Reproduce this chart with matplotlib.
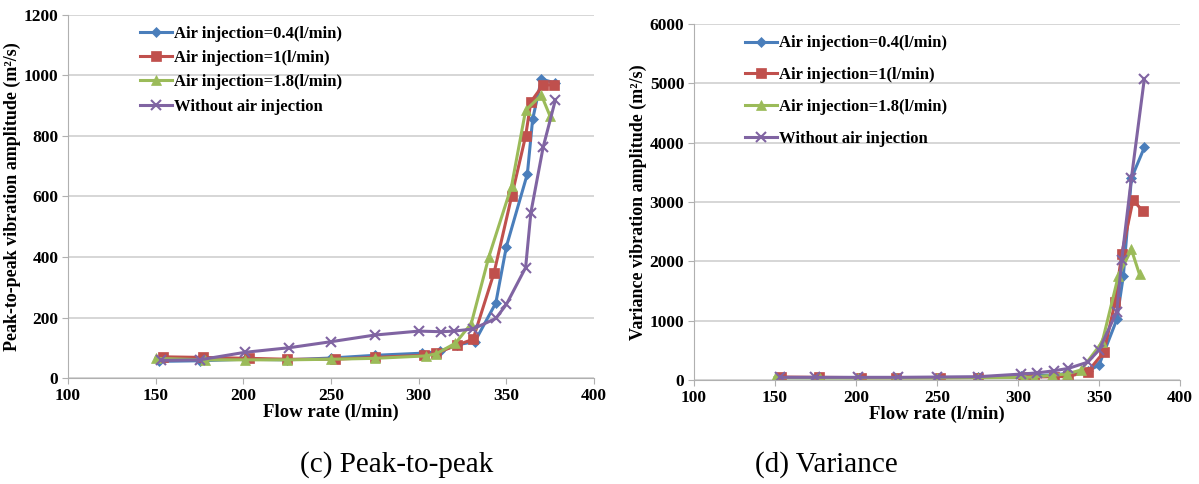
import matplotlib
matplotlib.use('Agg')
import matplotlib.pyplot as plt

plt.rcParams['font.family'] = ['Liberation Serif', 'DejaVu Serif']

# peak-to-peak (c)
x_p04 = [152, 175, 201, 225, 250, 275, 302, 312, 322, 332, 344, 350, 362, 365, 370, 378]
y_p04 = [55, 57, 62, 60, 66, 75, 82, 88, 110, 120, 248, 434, 675, 855, 988, 975]
x_p1 = [154, 177, 203, 225, 252, 275, 303, 310, 322, 331, 343, 353, 361, 364, 371, 377]
y_p1 = [70, 68, 65, 62, 62, 68, 75, 82, 109, 128, 348, 600, 800, 913, 969, 969]
x_p18 = [150, 178, 201, 225, 250, 275, 304, 310, 321, 330, 340, 353, 361, 370, 375]
y_p18 = [65, 60, 60, 60, 62, 65, 73, 80, 115, 180, 400, 635, 885, 935, 865]
x_p0 = [153, 175, 201, 226, 250, 275, 300, 313, 320, 331, 344, 350, 361, 364, 371, 378]
y_p0 = [58, 60, 85, 100, 120, 142, 155, 153, 155, 162, 197, 243, 365, 547, 763, 920]

# variance (d)
x_v04 = [152, 175, 202, 225, 252, 275, 302, 310, 322, 331, 343, 350, 361, 365, 370, 378]
y_v04 = [40, 40, 40, 40, 42, 45, 60, 70, 90, 110, 150, 250, 1020, 1750, 3400, 3920]
x_v1 = [154, 177, 203, 225, 252, 275, 303, 310, 322, 331, 343, 353, 360, 364, 371, 377]
y_v1 = [50, 45, 40, 40, 40, 42, 45, 50, 55, 60, 140, 470, 1320, 2120, 3030, 2850]
x_v18 = [150, 178, 201, 225, 250, 275, 304, 310, 321, 330, 339, 352, 362, 370, 375]
y_v18 = [40, 35, 35, 35, 35, 38, 45, 50, 80, 100, 170, 640, 1760, 2200, 1780]
x_v0 = [153, 175, 201, 226, 250, 275, 302, 312, 322, 331, 343, 350, 361, 364, 370, 378]
y_v0 = [45, 45, 45, 45, 50, 55, 100, 120, 155, 195, 300, 505, 1150, 2020, 3400, 5080]

labels = ['Air injection=0.4(l/min)', 'Air injection=1(l/min)',
          'Air injection=1.8(l/min)', 'Without air injection']
colors = ['#4A7EBB', '#C0504D', '#9BBB59', '#8064A2']
markers = ['D', 's', '^', 'x']
msizes = [5.5, 7.5, 7, 7]

fig = plt.figure(figsize=(11.99, 4.84), dpi=100)
ax1 = fig.add_axes([68/1199, 1-378/484, 526/1199, 363/484])
ax2 = fig.add_axes([694/1199, 1-380/484, 486/1199, 356/484])

def draw(ax, series, ymax, ystep, ylabel, leg_xy, spacing):
    for (x, y), lab, c, m, ms in zip(series, labels, colors, markers, msizes):
        ax.plot(x, y, color=c, lw=2.2, marker=m, ms=ms, mew=1.5 if m == 'x' else 0.5,
                mec=c, label=lab)
    ax.set_xlim(100, 400)
    ax.set_ylim(0, ymax)
    ax.set_xticks(range(100, 401, 50))
    ax.set_yticks(range(0, ymax + 1, ystep))
    ax.grid(axis='y', color='#d0d0d0', lw=1.2)
    ax.set_axisbelow(True)
    for s in ['top', 'right']:
        ax.spines[s].set_visible(False)
    for s in ['left', 'bottom']:
        ax.spines[s].set_color('#b0b0b0')
    ax.tick_params(length=4, color='#b0b0b0', labelsize=12.5, pad=3)
    for t in ax.get_xticklabels() + ax.get_yticklabels():
        t.set_fontweight('bold')
    ax.set_xlabel('Flow rate (l/min)', fontsize=13.5, fontweight='bold', labelpad=0)
    ax.set_ylabel(ylabel, fontsize=13, fontweight='bold', labelpad=2)
    ax.legend(loc='upper left', bbox_to_anchor=leg_xy, frameon=False,
              prop={'weight': 'bold', 'size': 12}, handlelength=1.9,
              handletextpad=0.15, labelspacing=spacing, borderpad=0,
              borderaxespad=0)

draw(ax1, [(x_p04, y_p04), (x_p1, y_p1), (x_p18, y_p18), (x_p0, y_p0)],
     1200, 200, 'Peak-to-peak vibration amplitude (m²/s)', (0.137, 0.971), 0.5)
draw(ax2, [(x_v04, y_v04), (x_v1, y_v1), (x_v18, y_v18), (x_v0, y_v0)],
     6000, 1000, 'Variance vibration amplitude (m²/s)', (0.105, 0.968), 0.95)

fig.text(397/1199, 1-465/484, '(c) Peak-to-peak', fontsize=21, ha='center', va='center')
fig.text(826/1199, 1-465/484, '(d) Variance', fontsize=21, ha='center', va='center')

fig.savefig('out.png', dpi=100)
